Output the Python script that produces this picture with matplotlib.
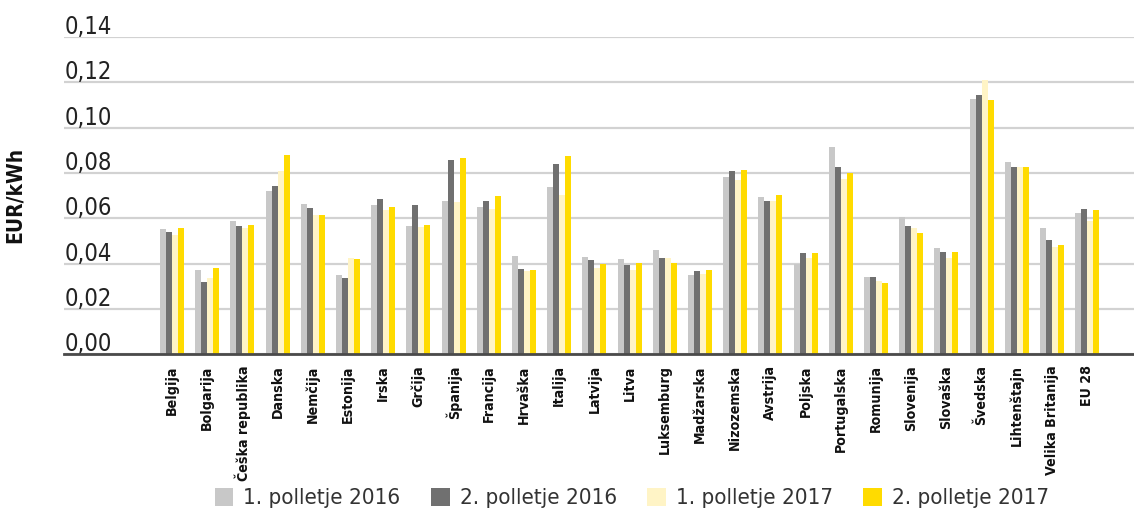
import numpy as np
import matplotlib
matplotlib.use("Agg")
import matplotlib.pyplot as plt
from matplotlib import font_manager as fm

countries = ["Belgija", "Bolgarija", "Češka republika", "Danska", "Nemčija", "Estonija",
             "Irska", "Grčija", "Španija", "Francija", "Hrvaška", "Italija", "Latvija",
             "Litva", "Luksemburg", "Madžarska", "Nizozemska", "Avstrija", "Poljska",
             "Portugalska", "Romunija", "Slovenija", "Slovaška", "Švedska", "Lihtenštajn",
             "Velika Britanija", "EU 28"]

h1_2016 = [0.0552, 0.0371, 0.0587, 0.0720, 0.0662, 0.0349, 0.0658, 0.0565, 0.0676, 0.0649,
           0.0433, 0.0737, 0.0428, 0.0420, 0.0459, 0.0349, 0.0782, 0.0693, 0.0397,
           0.0914, 0.0340, 0.0605, 0.0468, 0.1126, 0.0848, 0.0556, 0.0623]
h2_2016 = [0.0539, 0.0318, 0.0565, 0.0742, 0.0645, 0.0336, 0.0684, 0.0658, 0.0857, 0.0676,
           0.0375, 0.0839, 0.0415, 0.0393, 0.0424, 0.0367, 0.0808, 0.0676, 0.0446,
           0.0826, 0.0340, 0.0565, 0.0450, 0.1144, 0.0826, 0.0503, 0.0640]
h1_2017 = [0.0526, 0.0336, 0.0556, 0.0808, 0.0614, 0.0424, 0.0636, 0.0561, 0.0671, 0.0640,
           0.0367, 0.0702, 0.0380, 0.0371, 0.0424, 0.0353, 0.0768, 0.0676, 0.0424,
           0.0773, 0.0322, 0.0556, 0.0424, 0.1210, 0.0826, 0.0473, 0.0587]
h2_2017 = [0.0556, 0.0380, 0.0570, 0.0879, 0.0614, 0.0420, 0.0649, 0.0570, 0.0866, 0.0698,
           0.0371, 0.0874, 0.0397, 0.0402, 0.0402, 0.0371, 0.0813, 0.0702, 0.0446,
           0.0799, 0.0314, 0.0534, 0.0450, 0.1122, 0.0826, 0.0481, 0.0636]

series = [h1_2016, h2_2016, h1_2017, h2_2017]
series_names = ["1. polletje 2016", "2. polletje 2016", "1. polletje 2017", "2. polletje 2017"]
colors = ["#c8c8c8", "#707070", "#fff4c6", "#ffdb00"]

yticks = [0.00, 0.02, 0.04, 0.06, 0.08, 0.10, 0.12, 0.14]
ytick_labels = ["0,00", "0,02", "0,04", "0,06", "0,08", "0,10", "0,12", "0,14"]


# look for a narrow / condensed face, the original uses one
def find_font(bold):
    best = None
    for f in fm.fontManager.ttflist:
        stretch = str(f.stretch).lower()
        narrow = ("condensed" in stretch or "narrow" in f.name.lower()
                  or "condensed" in f.name.lower())
        if not narrow or f.style != "normal":
            continue
        w = f.weight if isinstance(f.weight, int) else fm.weight_dict.get(f.weight, 400)
        is_bold = w >= 600
        if is_bold != bold:
            continue
        if "semi" in stretch or "semi" in f.name.lower():
            continue
        if best is None or ("Liberation" in f.name):
            best = f.fname
    if best:
        return fm.FontProperties(fname=best)
    return fm.FontProperties(family="DejaVu Sans", weight="bold" if bold else "normal")


fp_reg = find_font(False)
fp_bold = find_font(True)

fig = plt.figure(figsize=(11.34, 5.14), dpi=100)
ax = fig.add_axes([0.0564, 0.311, 0.9436, 0.617])

x = np.arange(len(countries))
w = 0.17
handles = []
for k, (vals, col, name) in enumerate(zip(series, colors, series_names)):
    b = ax.bar(x + (k - 1.5) * w, vals, width=w, color=col, label=name, zorder=3)
    handles.append(b)

ax.set_xlim(-3.07, 27.33)
ax.set_ylim(0, 0.14)
ax.set_yticks(yticks)
ax.set_yticklabels([])
ax.tick_params(axis='both', length=0)
ax.yaxis.grid(True, color="#d2d2d2", linewidth=1.6, zorder=0)
ax.set_axisbelow(True)
for s in ["top", "right", "left"]:
    ax.spines[s].set_visible(False)
ax.spines["bottom"].set_color("#4a4a4a")
ax.spines["bottom"].set_linewidth(2)
ax.spines["bottom"].set_zorder(4)

# y tick labels sit above the gridlines at the left
for v, lab in zip(yticks, ytick_labels):
    t = ax.text(0.001, v + 0.0013, lab, transform=ax.get_yaxis_transform(),
                ha="left", va="baseline", color="#222222", fontproperties=fp_reg)
    t.set_fontsize(17)

ax.set_xticks(x)
ax.set_xticklabels(countries, rotation=90, va="top", ha="center")
for lab in ax.get_xticklabels():
    lab.set_fontproperties(fp_bold)
    lab.set_fontsize(10.2)
    lab.set_color("#111111")
ax.tick_params(axis='x', pad=8)

yl = fig.text(0.013, 0.62, "EUR/kWh", rotation=90, ha="center", va="center",
              color="#111111", fontproperties=fp_bold)
yl.set_fontsize(15)

leg_prop = fp_reg.copy()
leg_prop.set_size(16)
fig.legend(handles=handles, labels=series_names, loc="center", bbox_to_anchor=(0.557, 0.031),
           ncol=4, frameon=False, prop=leg_prop, handlelength=0.85, handleheight=0.85,
           handletextpad=0.45, columnspacing=1.35, labelcolor="#333333")

fig.savefig("out.png", dpi=100)
